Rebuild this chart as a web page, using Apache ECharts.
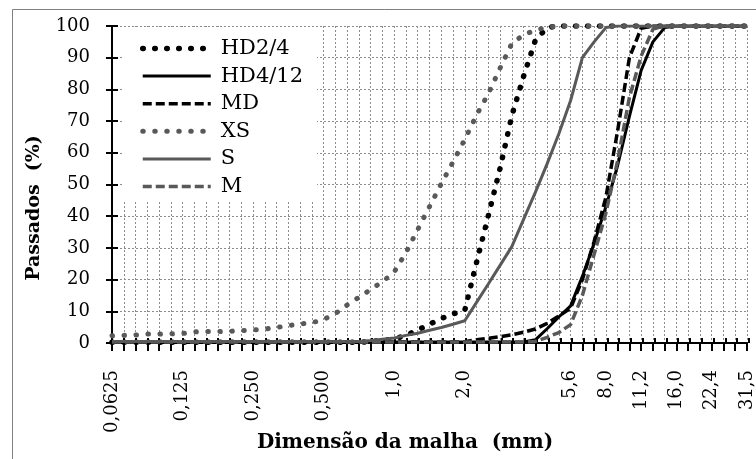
<!DOCTYPE html>
<html>
<head>
<meta charset="utf-8">
<script src="https://cdn.jsdelivr.net/npm/echarts@6/dist/echarts.min.js"></script>
<style>html,body{margin:0;padding:0;background:#fff}#c{width:756px;height:459px}</style>
</head>
<body>
<div id="c"></div>
<script>
// Sieve sizes (mm), one category per axis tick
const sizes = ['0,0625','0,0702','0,0787','0,0884','0,0992','0,111','0,125','0,140','0,157','0,177',
  '0,198','0,223','0,250','0,281','0,315','0,354','0,397','0,445','0,500','0,561',
  '0,630','0,707','0,794','0,891','1,0','1,12','1,26','1,41','1,59','1,78',
  '2,0','2,24','2,52','2,83','3,17','3,56','4,0','4,49','5,04','5,6',
  '6,35','7,13','8,0','8,98','10,1','11,2','12,7','14,3','16,0','18,0',
  '20,2','22,4','25,4','28,5','31,5'];
const tickLabels = ['0,0625','0,125','0,250','0,500','1,0','2,0','5,6','8,0','11,2','16,0','22,4','31,5'];

const HD24 = [0.2,0.2,0.2,0.2,0.2,0.2,0.2,0.2,0.2,0.2,0.2,0.2,0.2,0.2,0.2,0.2,0.2,0.2,0.2,0.2,
  0.2,0.2,0.5,0.8,1.3,2.4,4.1,5.9,7.7,9.2,10.3,25.4,40.1,55.1,71.7,84.1,95.5,99.5,100,100,
  100,100,100,100,100,100,100,100,100,100,100,100,100,100,100];
const HD412 = [0.3,0.3,0.3,0.3,0.3,0.3,0.3,0.3,0.3,0.3,0.3,0.3,0.3,0.3,0.3,0.3,0.3,0.3,0.3,0.3,
  0.3,0.3,0.3,0.3,0.3,0.3,0.3,0.3,0.3,0.3,0.3,0.3,0.3,0.3,0.3,0.3,1.0,4.5,8.2,11.7,
  21,31.5,43,56,71.5,86,95,99.5,100,100,100,100,100,100,100];
const MD = [0.4,0.4,0.4,0.4,0.4,0.4,0.4,0.4,0.4,0.4,0.4,0.4,0.4,0.4,0.4,0.4,0.4,0.4,0.4,0.4,
  0.4,0.4,0.4,0.4,0.4,0.4,0.4,0.4,0.4,0.4,0.4,1.0,1.5,2.0,2.6,3.4,4.4,6.2,8.5,11,
  20,32,46,67,90,99.3,100,100,100,100,100,100,100,100,100];
const XS = [2.3,2.4,2.5,2.8,2.8,2.9,3.0,3.5,3.6,3.6,3.7,3.9,4.1,4.4,4.9,5.5,6.0,6.4,7.4,9.3,
  12.0,14.4,16.9,19.3,22.4,28.5,35.8,43.0,50.2,57.1,64.2,71.9,78.6,86.7,94.5,97.2,98.7,99.6,100,100,
  100,100,100,100,100,100,100,100,100,100,100,100,100,100,100];
const S = [0.5,0.5,0.5,0.5,0.5,0.5,0.5,0.5,0.5,0.5,0.5,0.5,0.5,0.5,0.5,0.5,0.5,0.5,0.5,0.5,
  0.5,0.5,0.8,1.2,1.6,2.4,3.1,4.0,4.9,5.9,7.0,12.8,18.6,24.5,30.4,39.0,47.5,56.5,66,76.5,
  90,95,99.5,100,100,100,100,100,100,100,100,100,100,100,100];
const M = [0.3,0.3,0.3,0.3,0.3,0.3,0.3,0.3,0.3,0.3,0.3,0.3,0.3,0.3,0.3,0.3,0.3,0.3,0.3,0.3,
  0.3,0.3,0.3,0.3,0.3,0.3,0.3,0.3,0.3,0.3,0.3,0.3,0.3,0.3,0.3,0.3,0.5,1.8,3.3,5.8,
  15,28,41,57.5,77.5,90.5,99,100,100,100,100,100,100,100,100];

const FONT = '"DejaVu Serif", "Liberation Serif", serif';
const GRAY = '#595959';
const NOFILL = 'rgba(0,0,0,0)';
const gridLine = {show:true, lineStyle:{color:'#8c8c8c', width:1, type:[2,2]}};

const styles = {
  'HD2/4':  {color:'#000', width:5.5, type:[0.5,11.5], cap:'round'},
  'HD4/12': {color:'#000', width:3, type:'solid', cap:'butt'},
  'MD':     {color:'#000', width:3.5, type:[9,4], cap:'butt'},
  'XS':     {color:GRAY, width:5, type:[0.5,11.5], cap:'round'},
  'S':      {color:GRAY, width:3, type:'solid', cap:'butt'},
  'M':      {color:GRAY, width:3.5, type:[9,4], cap:'butt'}
};
const seriesData = {'HD2/4':HD24, 'HD4/12':HD412, 'MD':MD, 'XS':XS, 'S':S, 'M':M};
const names = ['HD2/4','HD4/12','MD','XS','S','M'];

const chart = echarts.init(document.getElementById('c'), null, {renderer:'canvas'});
chart.setOption({
  animation:false,
  backgroundColor:'#fff',
  grid:[
    {left:112, right:7, top:26, bottom:116},
    {left:112, right:7, top:26, bottom:116}
  ],
  xAxis:[
    {type:'category', gridIndex:0, data:sizes, boundaryGap:false,
     axisLine:{lineStyle:{color:'#000', width:2}},
     axisTick:{interval:0, length:8, lineStyle:{color:'#000', width:2}},
     axisLabel:{interval:(i, v) => tickLabels.indexOf(v) >= 0, rotate:90, margin:27,
       fontFamily:FONT, fontSize:18, color:'#000'},
     splitLine:Object.assign({interval:0}, gridLine)},
    {type:'category', gridIndex:1, data:sizes, boundaryGap:false,
     axisLine:{show:false},
     axisTick:{inside:true, interval:0, length:5, lineStyle:{color:'#000', width:2}},
     axisLabel:{show:false}, splitLine:{show:false}}
  ],
  yAxis:[
    {type:'value', gridIndex:0, min:0, max:100, interval:10,
     axisLine:{show:true, lineStyle:{color:'#000', width:2}},
     axisTick:{show:true, length:6, lineStyle:{color:'#000', width:2}},
     axisLabel:{margin:22, fontFamily:FONT, fontSize:18, color:'#000'},
     splitLine:gridLine},
    {type:'value', gridIndex:1, min:0, max:100, interval:10,
     axisLine:{show:false},
     axisTick:{show:true, inside:true, length:6, lineStyle:{color:'#000', width:2}},
     axisLabel:{show:false}, splitLine:{show:false}}
  ],
  legend:{
    left:124, top:27, orient:'vertical',
    backgroundColor:'#fff',
    padding:[11, 14, 4, 16],
    itemWidth:68, itemHeight:14, itemGap:6.6,
    itemStyle:{color:NOFILL, borderWidth:0, opacity:0},
    textStyle:{fontFamily:FONT, fontSize:21, color:'#000', padding:[0,0,0,5]},
    data:names.map(n => ({name:n, lineStyle:Object.assign({}, styles[n]), itemStyle:{color:NOFILL, opacity:0}}))
  },
  graphic:[
    {type:'rect', shape:{x:12.5, y:9.5, width:800, height:500}, style:{fill:'none', stroke:'#808080', lineWidth:1}, silent:true},
    {type:'text', x:405, y:443, style:{text:'Dimensão da malha  (mm)', fontFamily:FONT, fontSize:20, fontWeight:'bold', fill:'#000', align:'center', verticalAlign:'middle'}},
    {type:'text', x:34, y:208, rotation:Math.PI/2, style:{text:'Passados  (%)', fontFamily:FONT, fontSize:19, fontWeight:'bold', fill:'#000', align:'center', verticalAlign:'middle'}}
  ],
  series:names.map(n => ({
    name:n, type:'line', data:seriesData[n], symbol:'none',
    lineStyle:Object.assign({}, styles[n]), itemStyle:{color:NOFILL}
  }))
});
</script>
</body>
</html>
